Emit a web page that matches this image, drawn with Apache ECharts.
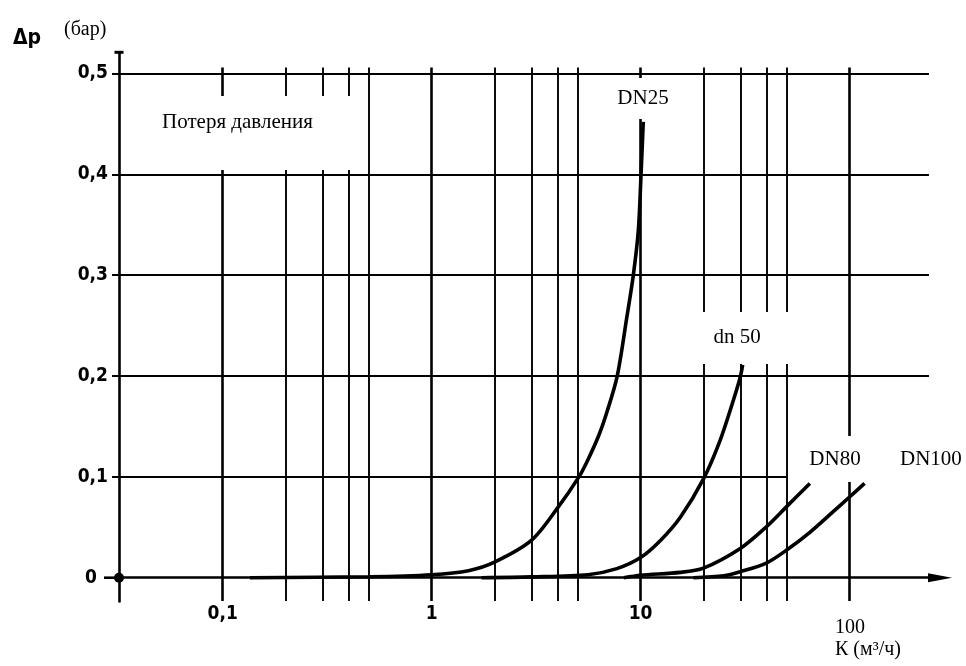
<!DOCTYPE html>
<html><head><meta charset="utf-8">
<script src="https://cdn.jsdelivr.net/npm/echarts@6/dist/echarts.min.js"></script>
<style>html,body{margin:0;padding:0;background:#fff}#c{width:966px;height:666px}</style>
</head><body><div id="c"></div>
<script>
// ---- data ----
const yTicks = [0, 0.1, 0.2, 0.3, 0.4, 0.5];
const yTickLabels = ['0', '0,1', '0,2', '0,3', '0,4', '0,5'];
const xTickValues = [0.1, 1, 10];
const xTickLabels = ['0,1', '1', '10'];
const xGridValues = [0.1, 0.2, 0.3, 0.4, 0.5, 1, 2, 3, 4, 5, 10, 20, 30, 40, 50, 100];
const xMajorValues = [0.1, 1, 10, 100];
const seriesNames = ['DN25', 'dn 50', 'DN80', 'DN100'];
const dn25 = [[0.135,0],[0.5,0.001],[1,0.003],[1.5,0.007],[2,0.0155],[3,0.037],[4,0.069],[5.07,0.1],[5.57,0.116],[6.32,0.1415],[6.92,0.165],[7.73,0.2],[8.59,0.258],[9.23,0.3],[9.76,0.345],[10.05,0.4],[10.3,0.452]];
const dn50 = [[1.73,0],[3,0.0008],[5.6,0.003],[7.7,0.009],[10,0.02],[12.45,0.037],[15.5,0.06],[20,0.098],[24,0.136],[27.8,0.176],[30,0.199],[30.8,0.211]];
const dn80 = [[8.3,0],[10,0.0025],[15.5,0.0053],[20,0.0095],[30,0.029],[40,0.0505],[50,0.0705],[64.6,0.0935]];
const dn100 = [[17.9,0],[25,0.002],[30,0.006],[40,0.0145],[50,0.0274],[64.6,0.045],[83,0.065],[100,0.08],[118,0.0935]];
const yAxisLabel = 'Δp';
const yUnit = '(бар)';
const chartTitle = 'Потеря давления';
const xAxisLabel = ['100', 'К (м³/ч)'];

// ---- layout ----
const X_MIN = 0.0319, X_MAX = 271, Y_MIN = -0.0235, Y_MAX = 0.521;
const GRID_TOP_V = 0.506, GRID_BOT_V = -0.023;
const BLACK = '#000';
const serif = 'Liberation Serif, Times New Roman, serif';
const sansB = 'DejaVu Sans Condensed, DejaVu Sans, sans-serif';

const gridLines = [];
yTicks.forEach(v => {
  if (v === 0) return;
  const end = v < 0.15 ? 50 : 240;
  gridLines.push([{coord: [X_MIN, v], lineStyle: {width: 2}}, {coord: [end, v]}]);
});
xGridValues.forEach(x => {
  const major = xMajorValues.indexOf(x) >= 0;
  gridLines.push([{coord: [x, GRID_BOT_V], lineStyle: {width: major ? 2.6 : 1.9}}, {coord: [x, GRID_TOP_V]}]);
});

function curve(name, data) {
  return {
    name, type: 'line', data, showSymbol: false, smooth: 0.3,
    lineStyle: {color: BLACK, width: 3.6}, itemStyle: {color: BLACK}, z: 5, silent: true, clip: false
  };
}

let gid = 0;
function txt(text, x, y, size, family, weight, align) {
  return {id: 'g' + (gid++), type: 'text', x, y, z: 110, silent: true,
    style: {text, font: (weight || 'normal') + ' ' + size + 'px ' + family, fill: BLACK,
      align: align || 'left', textAlign: align || 'left', verticalAlign: 'middle', textVerticalAlign: 'middle'}};
}
function box(x, y, w, h) {
  return {id: 'g' + (gid++), type: 'rect', z: 100, silent: true, shape: {x, y, width: w, height: h}, style: {fill: '#fff', stroke: null, lineWidth: 0}};
}

const chart = echarts.init(document.getElementById('c'), null, {renderer: 'canvas'});
chart.setOption({
  animation: false,
  backgroundColor: '#fff',
  grid: {left: 119, right: 26, top: 52.3, bottom: 64.6, containLabel: false},
  xAxis: {
    type: 'log', logBase: 10, min: X_MIN, max: X_MAX,
    axisLine: {show: true, onZero: true, lineStyle: {color: BLACK, width: 2.6},
      symbol: ['none', 'triangle'], symbolSize: [9, 24]},
    axisTick: {show: false},
    splitLine: {show: false},
    minorTick: {show: false},
    axisLabel: {
      show: true, margin: 3, color: BLACK, fontSize: 19, fontWeight: 'bold', fontFamily: sansB,
      showMinLabel: false, showMaxLabel: false,
      formatter: v => {
        const i = xTickValues.findIndex(t => Math.abs(Math.log10(t) - Math.log10(v)) < 1e-6);
        return i >= 0 ? xTickLabels[i] : '';
      }
    }
  },
  yAxis: {
    type: 'value', min: Y_MIN, max: Y_MAX,
    axisLine: {show: true, lineStyle: {color: BLACK, width: 2.6}, symbol: ['none', 'rect'], symbolSize: [9, 3]},
    axisTick: {show: true, customValues: yTicks, length: 7, lineStyle: {color: BLACK, width: 2}},
    splitLine: {show: false},
    axisLabel: {
      show: true, customValues: yTicks, margin: 11, color: BLACK, fontSize: 19, fontWeight: 'bold', fontFamily: sansB,
      rich: {z: {padding: [0, 11, 0, 0], color: BLACK, fontSize: 19, fontWeight: 'bold', fontFamily: sansB}},
      formatter: v => {
        const i = yTicks.findIndex(t => Math.abs(t - v) < 1e-9);
        if (i < 0) return '';
        return yTicks[i] === 0 ? '{z|' + yTickLabels[i] + '}' : yTickLabels[i];
      }
    }
  },
  series: [
    {
      name: 'grid', type: 'line', data: [], silent: true, clip: false, z: 3,
      markLine: {silent: true, symbol: ['none', 'none'], label: {show: false}, animation: false,
        lineStyle: {color: BLACK, type: 'solid', width: 2}, emphasis: {disabled: true}, data: gridLines},
      markPoint: {silent: true, symbol: 'circle', symbolSize: 10, itemStyle: {color: BLACK}, label: {show: false},
        animation: false, data: [{coord: [X_MIN, 0]}]}
    },
    curve(seriesNames[0], dn25),
    curve(seriesNames[1], dn50),
    curve(seriesNames[2], dn80),
    curve(seriesNames[3], dn100)
  ],
  graphic: [
    box(150, 96, 212, 74),
    box(612, 78, 82, 41),
    box(695, 312, 105, 52),
    box(790, 436, 150, 46),
    txt(yAxisLabel, 13, 39, 21, sansB, 'bold'),
    txt(yUnit, 64, 30, 20, serif),
    txt(chartTitle, 162, 122, 21, serif),
    txt(seriesNames[0], 643, 98, 21, serif, 'normal', 'center'),
    txt(seriesNames[1], 737, 337, 21, serif, 'normal', 'center'),
    txt(seriesNames[2], 835, 459, 21, serif, 'normal', 'center'),
    txt(seriesNames[3], 900, 459, 21, serif),
    txt(xAxisLabel[0], 835, 628, 20, serif),
    txt(xAxisLabel[1], 835, 650, 20, serif)
  ]
});
// short extension of the x axis line to the left of the origin
const o = chart.convertToPixel({gridIndex: 0}, [X_MIN, 0]);
chart.setOption({graphic: [{id: 'xext', type: 'line', z: 90, silent: true,
  shape: {x1: o[0] - 15, y1: o[1], x2: o[0], y2: o[1]}, style: {stroke: BLACK, lineWidth: 2.6}}]});
</script>
</body></html>
